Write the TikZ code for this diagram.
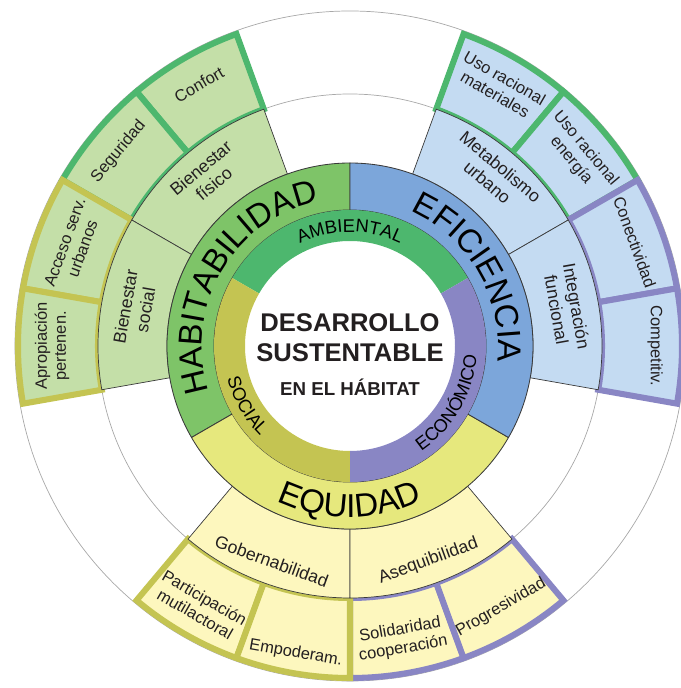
\documentclass[tikz,border=0pt]{standalone}
\usepackage{fontspec}
\setmainfont{Liberation Sans}
\usetikzlibrary{decorations.text}
\definecolor{dshabring}{HTML}{7EC468}
\definecolor{dshablight}{HTML}{C4DFA8}
\definecolor{dsefiring}{HTML}{7CA6DA}
\definecolor{dsefilight}{HTML}{C4DBF2}
\definecolor{dsequring}{HTML}{E6E87D}
\definecolor{dsequlight}{HTML}{FDF7BE}
\definecolor{dsgreen}{HTML}{4DB76E}
\definecolor{dsolive}{HTML}{C4C452}
\definecolor{dspurple}{HTML}{8986C4}
\definecolor{dsline}{HTML}{3A3A3A}
\definecolor{dsgrey}{HTML}{A8A8A8}
\definecolor{dstext}{HTML}{231F20}

% annular cell: style, start angle, end angle, inner radius, outer radius
\newcommand{\dscell}[5]{\path[#1] (#2:#4) arc[start angle=#2, end angle=#3, radius=#4]
  -- (#3:#5) arc[start angle=#3, end angle=#2, radius=#5] -- cycle;}
\newcommand{\ringfont}{\fontsize{23.5}{24}\selectfont}
\newcommand{\corefont}{\fontsize{13}{13}\selectfont}

\begin{document}
\begin{tikzpicture}[x=0.025cm, y=0.025cm,
  outerbox/.style={line width=4.3pt},
  innerbox/.style={draw=dsline, line width=0.5pt},
  midring/.style={draw=dsline, line width=0.6pt},
  outerlbl/.style={font=\fontsize{11.7}{13.5}\selectfont, align=center, text=dstext},
  innerlbl/.style={font=\fontsize{12.5}{14.5}\selectfont, align=center, text=dstext}]
\useasboundingbox (-350,-342) rectangle (330,346);

\draw[dsgrey, line width=0.5pt] (0,0) circle[radius=252];
\draw[dsgrey, line width=0.5pt] (0,0) circle[radius=335];

% outer boxes
\dscell{outerbox, fill=dshablight, draw=dsgreen}{110}{130}{252}{332}
\dscell{outerbox, fill=dshablight, draw=dsgreen}{130}{150}{252}{332}
\dscell{outerbox, fill=dsefilight, draw=dsgreen}{50}{70}{252}{332}
\dscell{outerbox, fill=dsefilight, draw=dsgreen}{30}{50}{252}{332}
\dscell{outerbox, fill=dsefilight, draw=dspurple}{10}{30}{252}{332}
\dscell{outerbox, fill=dsefilight, draw=dspurple}{-10}{10}{252}{332}
\dscell{outerbox, fill=dsequlight, draw=dspurple}{270}{290}{252}{332}
\dscell{outerbox, fill=dsequlight, draw=dspurple}{290}{310}{252}{332}
\dscell{outerbox, fill=dshablight, draw=dsolive}{150}{170}{252}{332}
\dscell{outerbox, fill=dshablight, draw=dsolive}{170}{190}{252}{332}
\dscell{outerbox, fill=dsequlight, draw=dsolive}{230}{250}{252}{332}
\dscell{outerbox, fill=dsequlight, draw=dsolive}{250}{270}{252}{332}

% inner boxes
\dscell{innerbox, fill=dshablight}{110}{150}{183}{252}
\dscell{innerbox, fill=dshablight}{150}{190}{183}{252}
\dscell{innerbox, fill=dsefilight}{30}{70}{183}{252}
\dscell{innerbox, fill=dsefilight}{-10}{30}{183}{252}
\dscell{innerbox, fill=dsequlight}{230}{270}{183}{252}
\dscell{innerbox, fill=dsequlight}{270}{310}{183}{252}

% rings
\dscell{midring, fill=dshabring}{90}{210}{136}{183}
\dscell{midring, fill=dsequring}{210}{330}{136}{183}
\dscell{midring, fill=dsefiring}{-30}{90}{136}{183}
\dscell{fill=dsgreen}{30}{150}{105}{136}
\dscell{fill=dsolive}{150}{270}{105}{136}
\dscell{fill=dspurple}{270}{390}{105}{136}

\path[decorate, decoration={text along path, text align=center,
  text={|\ringfont|HABITABILIDAD}}] (210:148) arc[start angle=210, end angle=90, radius=148];
\path[decorate, decoration={text along path, text align=center,
  text={|\ringfont|EFICIENCIA}}] (90:148) arc[start angle=90, end angle=-30, radius=148];
\path[decorate, decoration={text along path, text align=center,
  text={|\ringfont|EQUIDAD}}] (210:171) arc[start angle=210, end angle=330, radius=171];
\path[decorate, decoration={text along path, text align=center,
  text={|\corefont|AMBIENTAL}}] (150:114) arc[start angle=150, end angle=30, radius=114];
\path[decorate, decoration={text along path, text align=center,
  text={|\corefont|SOCIAL}}] (150:127) arc[start angle=150, end angle=270, radius=127];
\path[decorate, decoration={text along path, text align=center,
  text={|\corefont|ECONÓMICO}}] (270:127) arc[start angle=270, end angle=390, radius=127];

\node[font=\fontsize{18.2}{18}\selectfont\bfseries, text=dstext] (desarrollo) at (0,23) {DESARROLLO};
\node[font=\fontsize{18.2}{18}\selectfont\bfseries, text=dstext] (sustentable) at (0,-7) {SUSTENTABLE};
\node[font=\fontsize{13.3}{13}\selectfont\bfseries, text=dstext] (habitat) at (0,-41) {EN EL HÁBITAT};

\node[innerlbl, rotate=40]  (fisico)   at (130:222) {Bienestar\\físico};
\node[innerlbl, rotate=80]  (social)   at (170:218) {Bienestar\\social};
\node[innerlbl, rotate=-40] (metab)    at (50:224)  {Metabolismo\\urbano};
\node[innerlbl, rotate=-80] (integ)    at (10:220)  {Integración\\funcional};
\node[innerlbl, rotate=-20] (gobern)   at (250:229) {Gobernabilidad};
\node[innerlbl, rotate=20]  (asequi)   at (290:229) {Asequibilidad};

\node[outerlbl, rotate=30]  (confort)  at (120:302) {Confort};
\node[outerlbl, rotate=50]  (segur)    at (140:302) {Seguridad};
\node[outerlbl, rotate=70]  (acceso)   at (160:294) {Acceso serv.\\urbanos};
\node[outerlbl, rotate=90]  (apropia)  at (180:298) {Apropiación\\pertenen.};
\node[outerlbl, rotate=-30] (materia)  at (60:300)  {Uso racional\\materiales};
\node[outerlbl, rotate=-50] (energia)  at (40:298)  {Uso racional\\energía};
\node[outerlbl, rotate=-70] (conect)   at (20:303)  {Conectividad};
\node[outerlbl, rotate=-90] (compet)   at (0:305)   {Competitiv.};
\node[outerlbl, rotate=-30] (partic)   at (240:300) {Participación\\mutilactoral};
\node[outerlbl, rotate=-10] (empod)    at (260:312) {Empoderam.};
\node[outerlbl, rotate=10]  (solid)    at (280:298) {Solidaridad\\cooperación};
\node[outerlbl, rotate=30]  (progres)  at (300:302) {Progresividad};
\end{tikzpicture}
\end{document}
